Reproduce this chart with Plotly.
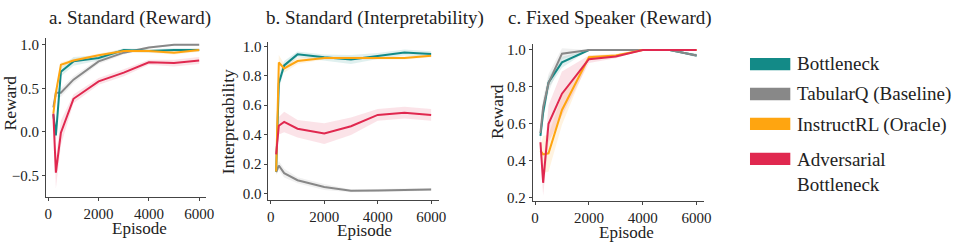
import plotly.graph_objects as go

# ---------------- data ----------------
episodes = [200, 300, 500, 1000, 2000, 3000, 4000, 5000, 6000]
series_names = ["Bottleneck", "TabularQ (Baseline)", "InstructRL (Oracle)", "Adversarial<br>Bottleneck"]
series_colors = ["#138A87", "#888888", "#FFA510", "#E0284F"]

# a. Standard (Reward)
a_bottleneck = [0.20, -0.04, 0.69, 0.81, 0.85, 0.94, 0.93, 0.94, 0.94]
a_tabularq = [0.28, 0.45, 0.45, 0.60, 0.81, 0.91, 0.97, 1.00, 1.00]
a_instructrl = [0.21, 0.45, 0.77, 0.82, 0.88, 0.93, 0.93, 0.91, 0.94]
a_adversarial = [0.21, -0.47, -0.01, 0.38, 0.58, 0.68, 0.80, 0.79, 0.82]
a_bottleneck_sd = [0.05, 0.08, 0.05, 0.05, 0.03, 0.02, 0.02, 0.02, 0.02]
a_tabularq_sd = [0.03, 0.05, 0.05, 0.04, 0.03, 0.02, 0.01, 0.01, 0.01]
a_instructrl_sd = [0.03, 0.05, 0.03, 0.02, 0.02, 0.02, 0.02, 0.02, 0.02]
a_adversarial_sd = [0.05, 0.18, 0.14, 0.05, 0.04, 0.04, 0.03, 0.04, 0.04]

# b. Standard (Interpretability)
b_bottleneck = [0.15, 0.75, 0.87, 0.945, 0.925, 0.91, 0.934, 0.958, 0.947]
b_tabularq = [0.145, 0.19, 0.138, 0.09, 0.044, 0.018, 0.02, 0.022, 0.028]
b_instructrl = [0.15, 0.89, 0.85, 0.90, 0.92, 0.92, 0.92, 0.92, 0.935]
b_adversarial = [0.266, 0.46, 0.486, 0.44, 0.407, 0.457, 0.534, 0.549, 0.534]
b_bottleneck_sd = [0.02, 0.05, 0.03, 0.02, 0.02, 0.03, 0.02, 0.02, 0.02]
b_tabularq_sd = [0.02, 0.03, 0.03, 0.02, 0.02, 0.01, 0.01, 0.01, 0.01]
b_instructrl_sd = [0.02, 0.05, 0.03, 0.02, 0.01, 0.01, 0.01, 0.01, 0.01]
b_adversarial_sd = [0.03, 0.06, 0.07, 0.06, 0.07, 0.06, 0.04, 0.04, 0.04]

# c. Fixed Speaker (Reward)
c_bottleneck = [0.534, 0.66, 0.824, 0.933, 1.0, 1.0, 1.0, 1.0, 0.97]
c_tabularq = [0.55, 0.69, 0.82, 0.98, 1.0, 1.0, 1.0, 1.0, 0.97]
c_instructrl = [0.455, 0.434, 0.44, 0.675, 0.961, 0.97, 1.0, 1.0, 1.0]
c_adversarial = [0.50, 0.28, 0.60, 0.763, 0.95, 0.965, 1.0, 1.0, 1.0]
c_bottleneck_sd = [0.02, 0.05, 0.03, 0.03, 0.0, 0.0, 0.0, 0.0, 0.01]
c_tabularq_sd = [0.03, 0.05, 0.05, 0.03, 0.0, 0.0, 0.0, 0.0, 0.01]
c_instructrl_sd = [0.03, 0.10, 0.10, 0.08, 0.01, 0.01, 0.0, 0.0, 0.0]
c_adversarial_sd = [0.05, 0.07, 0.10, 0.12, 0.02, 0.01, 0.0, 0.0, 0.0]

panel_titles = ["a. Standard (Reward)", "b. Standard (Interpretability)", "c. Fixed Speaker (Reward)"]
y_titles = ["Reward", "Interpretability", "Reward"]
x_title = "Episode"

# ---------------- figure ----------------
W, H = 971, 248
FONT = "Liberation Serif"


def hex_rgba(h, a):
    h = h.lstrip("#")
    return "rgba(%d,%d,%d,%.3f)" % (int(h[0:2], 16), int(h[2:4], 16), int(h[4:6], 16), a)


panels = [
    ([a_tabularq, a_bottleneck, a_instructrl, a_adversarial],
     [a_tabularq_sd, a_bottleneck_sd, a_instructrl_sd, a_adversarial_sd]),
    ([b_tabularq, b_bottleneck, b_instructrl, b_adversarial],
     [b_tabularq_sd, b_bottleneck_sd, b_instructrl_sd, b_adversarial_sd]),
    ([c_bottleneck, c_tabularq, c_instructrl, c_adversarial],
     [c_bottleneck_sd, c_tabularq_sd, c_instructrl_sd, c_adversarial_sd]),
]
orders = [[1, 0, 2, 3], [1, 0, 2, 3], [0, 1, 2, 3]]

fig = go.Figure()
for p, ((vals, sds), order) in enumerate(zip(panels, orders)):
    xa = "x" if p == 0 else "x%d" % (p + 1)
    ya = "y" if p == 0 else "y%d" % (p + 1)
    for v, sd, si in zip(vals, sds, order):
        col = series_colors[si]
        lo = [m - s for m, s in zip(v, sd)]
        hi = [m + s for m, s in zip(v, sd)]
        fig.add_trace(go.Scatter(x=episodes + episodes[::-1], y=hi + lo[::-1], fill="toself",
                                 mode="lines", fillcolor=hex_rgba(col, 0.13), line=dict(width=0),
                                 hoverinfo="skip", showlegend=False, xaxis=xa, yaxis=ya))
    for v, sd, si in zip(vals, sds, order):
        col = series_colors[si]
        fig.add_trace(go.Scatter(x=episodes, y=v, mode="lines", line=dict(color=col, width=2),
                                 name=series_names[si], showlegend=False, xaxis=xa, yaxis=ya))

# plot-area pixel boxes (left, right, top, bottom)
boxes = [(45.5, 207.4, 35.9, 199.3), (269.9, 442.0, 40.0, 202.7), (536.6, 710.0, 41.7, 204.0)]
yranges = [[-0.745, 1.08], [-0.044, 1.03], [0.18, 1.035]]
ytickvals = [[-0.5, 0.0, 0.5, 1.0], [0.0, 0.2, 0.4, 0.6, 0.8, 1.0], [0.2, 0.4, 0.6, 0.8, 1.0]]

axis_common = dict(showline=True, linecolor="#444444", linewidth=1, ticks="outside", ticklen=3,
                   tickcolor="#444444", tickwidth=1, showgrid=False, zeroline=False,
                   tickfont=dict(family=FONT, size=15, color="#222222"))
layout = {}
for p, (l, r, t, b) in enumerate(boxes):
    sx = "" if p == 0 else str(p + 1)
    layout["xaxis" + sx] = dict(domain=[l / W, r / W], anchor="y" + sx, range=[-90, 6290],
                                tickvals=[0, 2000, 4000, 6000], ticktext=["0", "2000", "4000", "6000"],
                                ticklabelstandoff=0, **axis_common)
    layout["yaxis" + sx] = dict(domain=[1 - b / H, 1 - t / H], anchor="x" + sx, range=yranges[p],
                                tickvals=ytickvals[p],
                                ticktext=["%.1f" % v if v >= 0 else "\u22120.5" for v in ytickvals[p]],
                                **axis_common)

ann = []


def text(x, y, s, size, xanchor="center", yanchor="middle", angle=0):
    ann.append(dict(x=x / W, y=1 - y / H, xref="paper", yref="paper", text=s, showarrow=False,
                    xanchor=xanchor, yanchor=yanchor, textangle=angle, align="left",
                    font=dict(family=FONT, size=size, color="#222222")))


title_x = [130, 377, 615]
for p in range(3):
    text(title_x[p], 15.5, panel_titles[p], 19)
xt_pos = [(140, 232), (366.5, 234.5), (631, 236)]
for (x, y) in xt_pos:
    text(x, y, x_title, 17)
yt_pos = [(9.5, 103), (229, 121.7), (500, 111.7)]
for p, (x, y) in enumerate(yt_pos):
    text(x, y, y_titles[p], 17.5, angle=-90)

# legend (custom swatches)
shapes = []
rect_y = [(56.7, 69.3), (87.3, 100.0), (118.0, 130.7), (154.0, 166.7)]
text_y = [62.5, 93.5, 125.5, 174.0]
for i in range(4):
    y0, y1 = rect_y[i]
    shapes.append(dict(type="rect", xref="paper", yref="paper", x0=756 / W, x1=796.7 / W,
                       y0=1 - y1 / H, y1=1 - y0 / H, fillcolor=series_colors[i], line=dict(width=0)))
    text(801, text_y[i], series_names[i], 19, xanchor="left")

layout.update(dict(width=W, height=H, margin=dict(l=0, r=0, t=0, b=0), paper_bgcolor="white",
                   plot_bgcolor="white", showlegend=False, annotations=ann, shapes=shapes,
                   font=dict(family=FONT)))
fig.update_layout(**layout)
fig.write_html("out.html", config={"displayModeBar": False},
               post_script="document.body.style.margin='0px';")
